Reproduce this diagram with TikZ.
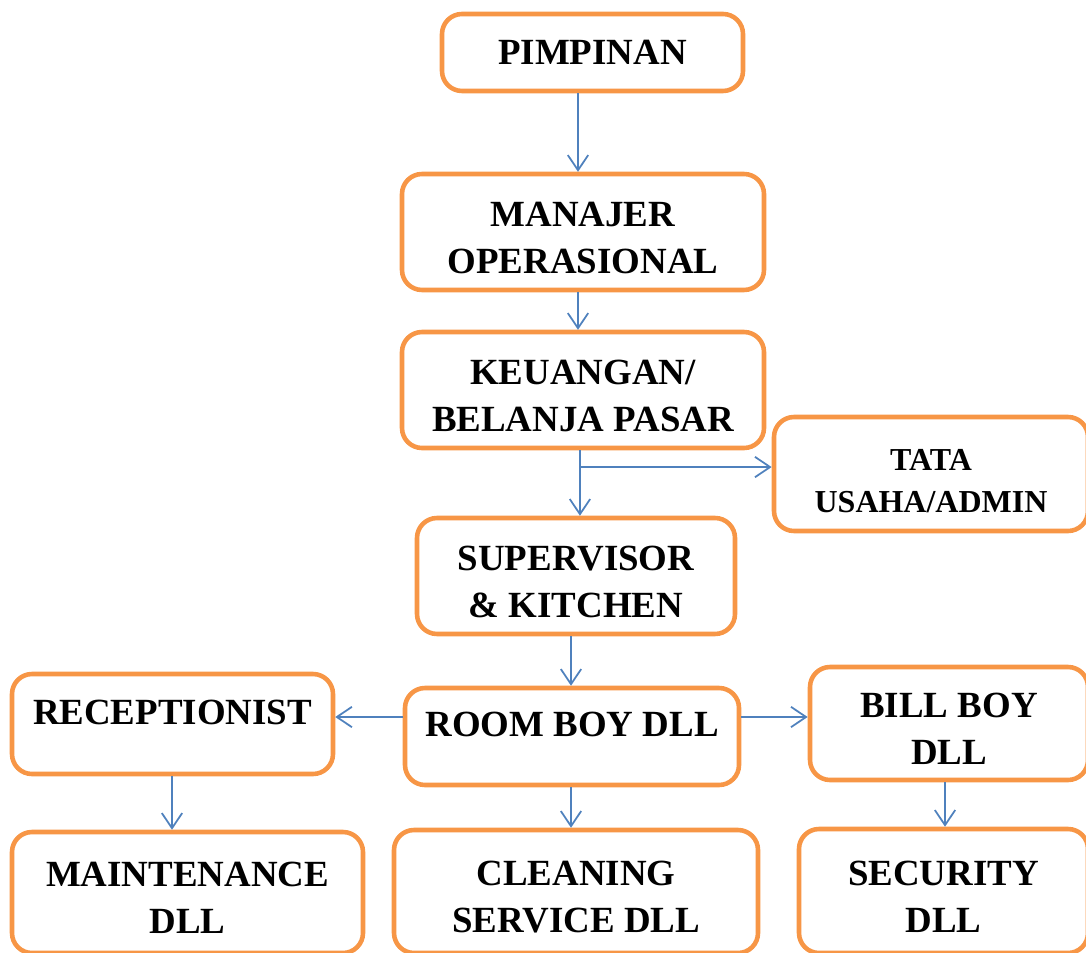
\documentclass[tikz,border=0pt]{standalone}
\usepackage{fontspec}
\setmainfont{Liberation Serif}
\usetikzlibrary{arrows.meta}
\definecolor{boxOrange}{RGB}{247,150,70}
\definecolor{arrowBlue}{RGB}{79,129,189}

\begin{document}
\begin{tikzpicture}[scale = 10]
\tikzstyle{boxStyle} = [draw = boxOrange, line width = 1.3pt, rounded corners = 5.7pt, fill = white, align = center, inner sep = 0pt, font = \bfseries\fontsize{10.5}{13.4}\selectfont]
\tikzstyle{twoLineStyle} = [boxStyle, text height = 23.4pt, text depth = 0pt]
\tikzstyle{smallBoxStyle} = [boxStyle, font = \bfseries\fontsize{9.1}{12}\selectfont, text height = 22pt, text depth = 0pt]
\tikzstyle{oneLineStyle} = [boxStyle, text height = 7pt, text depth = 7pt]
\tikzstyle{arrowStyle} = [draw = arrowBlue, line width = 0.5pt, -{Straight Barb[length = 4.3pt, width = 5.8pt]}]
\useasboundingbox (0, 0) rectangle (1.086, 0.952);
% boxes
\node[boxStyle, minimum width = 3.01cm, minimum height = 0.77cm] (pim) at (0.5925, 0.8995) {PIMPINAN};
\node[twoLineStyle, minimum width = 3.62cm, minimum height = 1.16cm] (man) at (0.583, 0.720) {MANAJER\\OPERASIONAL};
\node[twoLineStyle, minimum width = 3.62cm, minimum height = 1.16cm] (keu) at (0.583, 0.562) {KEUANGAN/\\BELANJA PASAR};
\node[smallBoxStyle, minimum width = 3.14cm, minimum height = 1.14cm] (tata) at (0.931, 0.478) {TATA\\USAHA/ADMIN};
\node[twoLineStyle, minimum width = 3.18cm, minimum height = 1.16cm] (sup) at (0.576, 0.376) {SUPERVISOR\\\& KITCHEN};
\node[oneLineStyle, minimum width = 3.21cm, minimum height = 1.00cm] (rec) at (0.1725, 0.228) {RECEPTIONIST};
\node[oneLineStyle, minimum width = 3.34cm, minimum height = 0.97cm] (room) at (0.572, 0.2155) {ROOM BOY DLL};
\node[twoLineStyle, minimum width = 2.78cm, minimum height = 1.13cm] (bill) at (0.949, 0.2285) {BILL BOY\\DLL};
\node[twoLineStyle, minimum width = 3.51cm, minimum height = 1.21cm] (maint) at (0.1875, 0.0595) {MAINTENANCE\\DLL};
\node[twoLineStyle, minimum width = 3.64cm, minimum height = 1.23cm] (clean) at (0.576, 0.0605) {CLEANING\\SERVICE DLL};
\node[twoLineStyle, minimum width = 2.89cm, minimum height = 1.24cm] (sec) at (0.9435, 0.061) {SECURITY\\DLL};
% arrows
\coordinate (split) at (0.580, 0.485);
\draw[arrowStyle] (pim.south -| 0.578, 0) -- (man.north -| 0.578, 0);
\draw[arrowStyle] (man.south -| 0.578, 0) -- (keu.north -| 0.578, 0);
\draw[arrowStyle] (keu.south -| split) -- (sup.north -| split);
\draw[arrowStyle] (split) -- (split -| tata.west);
\draw[arrowStyle] (sup.south -| 0.571, 0) -- (room.north -| 0.571, 0);
\draw[arrowStyle] (room.west |- 0, 0.235) -- (rec.east |- 0, 0.235);
\draw[arrowStyle] (room.east |- 0, 0.235) -- (bill.west |- 0, 0.235);
\draw[arrowStyle] (rec.south -| 0.172, 0) -- (maint.north -| 0.172, 0);
\draw[arrowStyle] (room.south -| 0.571, 0) -- (clean.north -| 0.571, 0);
\draw[arrowStyle] (bill.south -| 0.945, 0) -- (sec.north -| 0.945, 0);
\end{tikzpicture}
\end{document}
